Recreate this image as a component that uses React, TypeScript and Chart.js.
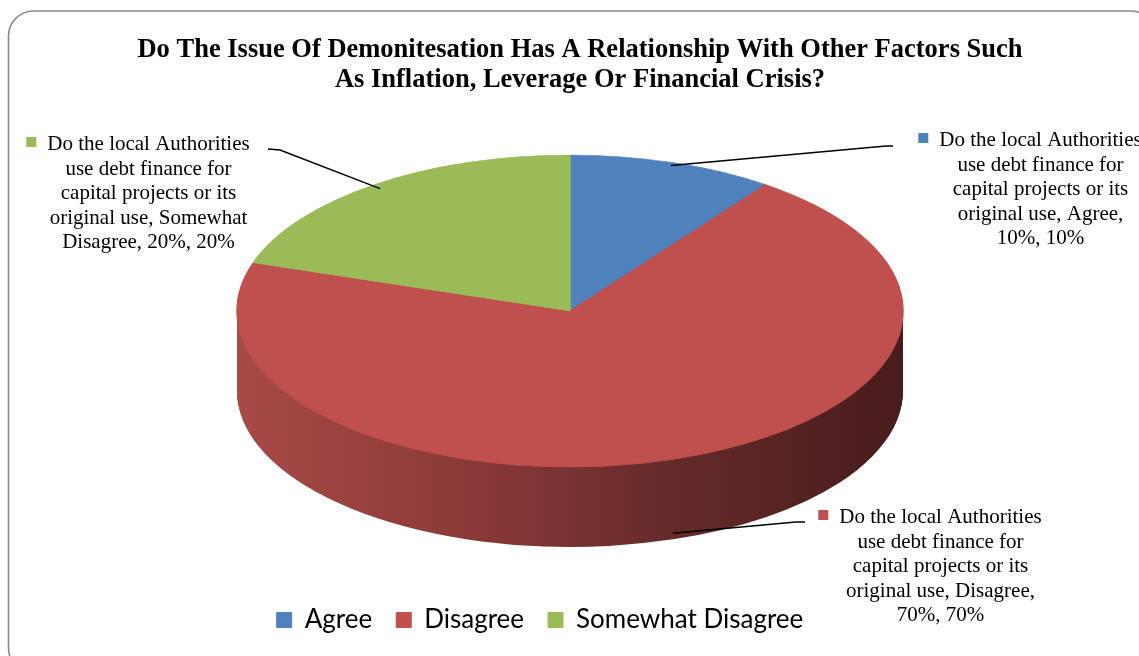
import React, { useEffect, useRef } from 'react';
import { Chart, registerables } from 'chart.js';

Chart.register(...registerables);

// ---------- data ----------
const TITLE_LINES = [
  'Do The Issue Of Demonitesation Has A Relationship With Other Factors Such',
  'As Inflation, Leverage Or Financial Crisis?',
];
const SERIES_NAME =
  'Do the local Authorities use debt finance for capital projects or its original use';
const CATEGORIES = ['Agree', 'Disagree', 'Somewhat Disagree'];
const VALUES = [10, 70, 20];

// ---------- style / layout ----------
const COLORS = ['#4F81BD', '#C0504D', '#9BBB59'];
const SIDE_STOPS: [number, string][][] = [
  [[0, '#41699a'], [0.5, '#2f4c70'], [1, '#1f3349']],
  [[0, '#a84a46'], [0.35, '#8a3a38'], [0.65, '#652a2a'], [1, '#481c1c']],
  [[0, '#809b49'], [0.5, '#5f7336'], [1, '#3e4b23']],
];
const W = 1139;
const H = 656;
const PIE = { cx: 570, cy: 311, rx: 333, ry: 156, depth: 80 };
const LABEL_FONT = 21;
const LABEL_LH = 24.5;
const LABEL_WRAP = 212;
// per slice: text centre x, first baseline, leader end, leader elbow, anchor radius factor, anchor on bottom of side
const LABEL_LAYOUT = [
  { cx: 1040.5, y: 146, end: [893, 146], elbow: [886, 146], f: 0.98, bottom: false },
  { cx: 940.5, y: 523, end: [805, 522], elbow: [796, 522], f: 1.0, bottom: true },
  { cx: 148.5, y: 150, end: [268, 149], elbow: [280, 150], f: 0.97, bottom: false },
];

function wrapText(ctx: CanvasRenderingContext2D, text: string, maxW: number) {
  const words = text.split(' ');
  const lines: string[] = [];
  let cur = '';
  for (const w of words) {
    const test = cur ? cur + ' ' + w : w;
    if (cur && ctx.measureText(test).width > maxW) {
      lines.push(cur);
      cur = w;
    } else cur = test;
  }
  if (cur) lines.push(cur);
  return lines;
}

function projector(chart: any) {
  const meta = chart.getDatasetMeta(0);
  const a0 = meta.data[0];
  const R = a0.outerRadius;
  return {
    meta,
    a0,
    R,
    sx: PIE.rx / R,
    sy: PIE.ry / R,
  };
}

const pie3dPlugin = {
  id: 'pie3d',
  beforeDraw(chart: any) {
    const ctx: CanvasRenderingContext2D = chart.ctx;
    ctx.save();
    ctx.fillStyle = '#ffffff';
    ctx.fillRect(0, 0, W, H);
    ctx.strokeStyle = '#8a8a8a';
    ctx.lineWidth = 1.6;
    ctx.beginPath();
    (ctx as any).roundRect(8.5, 11, 1147, 662, 25);
    ctx.stroke();
    ctx.restore();
  },
  beforeDatasetsDraw(chart: any) {
    const p = projector(chart);
    const arcs = p.meta.data;
    const ctx: CanvasRenderingContext2D = chart.ctx;
    (chart as any).$pieSaved = false;
    if (!arcs.length) return;
    const grads = SIDE_STOPS.map((stops) => {
      const g = ctx.createLinearGradient(p.a0.x - p.R, 0, p.a0.x + p.R, 0);
      stops.forEach(([o, c]) => g.addColorStop(o, c));
      return g;
    });
    for (let d = PIE.depth; d >= 1; d -= 1) {
      ctx.save();
      ctx.translate(PIE.cx, PIE.cy + d);
      ctx.scale(p.sx, p.sy);
      ctx.translate(-p.a0.x, -p.a0.y);
      arcs.forEach((el: any, i: number) => {
        const proxy = Object.create(el);
        proxy.options = {
          ...el.options,
          backgroundColor: grads[i % grads.length],
          borderColor: grads[i % grads.length],
          borderWidth: 0,
        };
        el.draw.call(proxy, ctx);
      });
      ctx.restore();
    }
    ctx.save();
    ctx.translate(PIE.cx, PIE.cy);
    ctx.scale(p.sx, p.sy);
    ctx.translate(-p.a0.x, -p.a0.y);
    (chart as any).$pieSaved = true;
  },
  afterDatasetsDraw(chart: any) {
    if ((chart as any).$pieSaved) chart.ctx.restore();
    (chart as any).$pieSaved = false;
  },
  afterDraw(chart: any) {
    const ctx: CanvasRenderingContext2D = chart.ctx;
    const p = projector(chart);
    const arcs = p.meta.data;
    // title
    ctx.save();
    ctx.fillStyle = '#000';
    ctx.textAlign = 'center';
    ctx.textBaseline = 'alphabetic';
    ctx.font = 'bold 26.5px "Liberation Serif"';
    TITLE_LINES.forEach((t, i) => ctx.fillText(t, 580, 57 + i * 30));
    ctx.restore();

    // data labels
    const total = VALUES.reduce((a, b) => a + b, 0);
    ctx.save();
    ctx.font = `${LABEL_FONT}px "Liberation Serif"`;
    ctx.textAlign = 'center';
    ctx.textBaseline = 'alphabetic';
    arcs.forEach((el: any, i: number) => {
      const L = LABEL_LAYOUT[i];
      const pct = Math.round((VALUES[i] / total) * 100);
      const text = `${SERIES_NAME}, ${CATEGORIES[i]}, ${VALUES[i]}%, ${pct}%`;
      const lines = wrapText(ctx, text, LABEL_WRAP);
      ctx.fillStyle = '#000';
      lines.forEach((ln, j) => ctx.fillText(ln, L.cx, L.y + j * LABEL_LH));
      const w0 = ctx.measureText(lines[0]).width;
      ctx.fillStyle = COLORS[i];
      ctx.fillRect(L.cx - w0 / 2 - 21, L.y - 13, 10, 10);

      // leader line
      const mid = (el.startAngle + el.endAngle) / 2;
      const lx = Math.cos(mid) * p.R * L.f;
      const ly = Math.sin(mid) * p.R * L.f;
      const ax = PIE.cx + lx * p.sx;
      const ay = PIE.cy + ly * p.sy + (L.bottom ? PIE.depth - 6 : 0);
      ctx.strokeStyle = '#000';
      ctx.lineWidth = 1.5;
      ctx.beginPath();
      ctx.moveTo(ax, ay);
      ctx.lineTo(L.elbow[0], L.elbow[1]);
      ctx.lineTo(L.end[0], L.end[1]);
      ctx.stroke();
    });
    ctx.restore();
  },
};

export default function App() {
  const ref = useRef<HTMLCanvasElement | null>(null);
  useEffect(() => {
    if (!ref.current) return;
    const chart = new Chart(ref.current, {
      type: 'pie',
      data: {
        labels: CATEGORIES,
        datasets: [
          {
            label: SERIES_NAME,
            data: VALUES,
            backgroundColor: COLORS,
            borderColor: COLORS,
            borderWidth: 1,
            clip: false as any,
          },
        ],
      },
      options: {
        responsive: false,
        animation: false,
        events: [],
        layout: { padding: { left: 0, right: 59, top: 120, bottom: 13 } },
        plugins: {
          title: { display: false },
          tooltip: { enabled: false },
          legend: {
            display: true,
            position: 'bottom',
            labels: {
              boxWidth: 15,
              boxHeight: 15,
              padding: 24,
              color: '#000',
              font: { family: 'Lato', size: 26 },
            },
          },
        },
      },
      plugins: [pie3dPlugin as any],
    });
    return () => chart.destroy();
  }, []);
  return (
    <div style={{ position: 'fixed', left: 0, top: 0, width: W, height: H, background: '#fff' }}>
      <canvas ref={ref} width={W} height={H} style={{ display: 'block', width: W, height: H }} />
    </div>
  );
}
